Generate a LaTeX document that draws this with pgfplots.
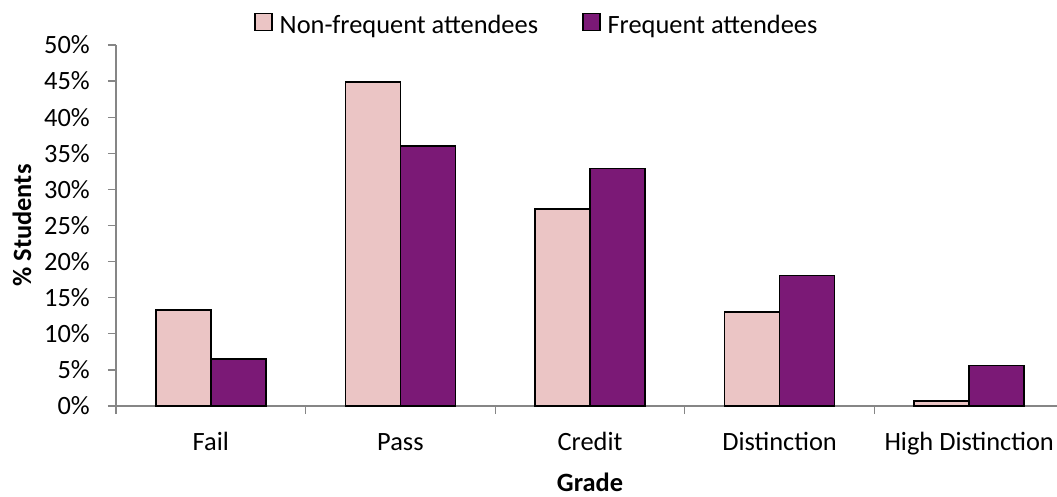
\documentclass[border=0pt]{standalone}
\usepackage{fontspec}
\setmainfont{Carlito}
\usepackage{pgfplots}
\pgfplotsset{compat=1.18}
\definecolor{pinkbar}{RGB}{235,197,197}
\definecolor{purplebar}{RGB}{123,25,118}
\definecolor{axisgray}{RGB}{134,134,134}
\begin{document}
\fontsize{26.4}{31}\selectfont
\begin{tikzpicture}
\useasboundingbox (0,0) rectangle (1057pt,496pt);
\begin{axis}[
  at={(116pt,90pt)}, anchor=south west,
  scale only axis, width=948pt, height=361pt,
  ybar=0pt, bar width=55pt,
  xmin=-0.5, xmax=4.5, ymin=0, ymax=50,
  enlargelimits=false,
  axis lines*=left,
  axis line style={draw=axisgray, line width=1.2pt},
  tick align=outside,
  major tick length=8pt,
  tick style={draw=axisgray, line width=1.2pt},
  xtick={-0.5,0.5,1.5,2.5,3.5,4.5},
  xticklabels={},
  extra x ticks={0,1,2,3,4},
  extra x tick labels={Fail,Pass,Credit,Distinction,High Distinction},
  extra x tick style={major tick length=0pt, tick style={draw=none},
    xticklabel style={anchor=base, inner sep=0pt, yshift=-44pt}},
  ytick={0,5,...,50},
  yticklabels={0\%,5\%,10\%,15\%,20\%,25\%,30\%,35\%,40\%,45\%,50\%},
  yticklabel style={anchor=east, inner sep=0pt, xshift=-18pt},
  every axis y label/.style={at={(axis description cs:-0.0992,0.5)}, rotate=90, anchor=center, font=\bfseries},
  every axis x label/.style={at={(axis description cs:0.5,-0.2355)}, anchor=base, inner sep=0pt, font=\bfseries},
  ylabel={\% Students},
  xlabel={Grade},
  legend columns=2,
  legend style={at={(axis description cs:0.1456,1.0313)}, anchor=south west,
    draw=none, fill=none, inner sep=0pt,
    nodes={inner sep=0pt, text depth=0pt, anchor=base west},
    /tikz/every odd column/.append style={column sep=7pt},
    /tikz/every even column/.append style={column sep=44pt}},
  legend image code/.code={\draw[#1, line width=1.5pt] (0pt,3pt) rectangle (17pt,20pt);},
]
\addplot[fill=pinkbar, draw=black, line width=1.5pt] coordinates {(0,13.3) (1,44.9) (2,27.3) (3,13.0) (4,0.7)};
\addlegendentry{Non-frequent attendees}
\addplot[fill=purplebar, draw=black, line width=1.5pt] coordinates {(0,6.5) (1,36.0) (2,32.9) (3,18.1) (4,5.6)};
\addlegendentry{Frequent attendees}
\end{axis}
\end{tikzpicture}
\end{document}
